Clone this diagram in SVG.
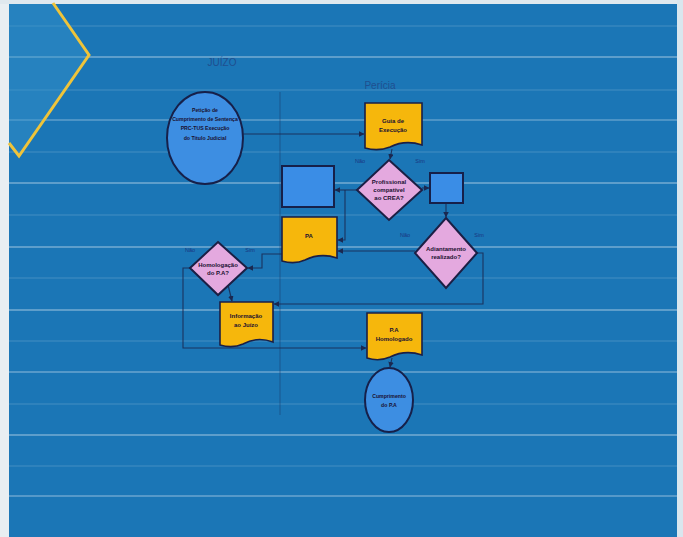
<svg xmlns="http://www.w3.org/2000/svg" width="683" height="537" viewBox="0 0 683 537">
<defs>
<style>
.doc{fill:#f6b70c;stroke:#1b1f45;stroke-width:1.6}
.dia{fill:#e4a9df;stroke:#1b1f45;stroke-width:2}
.ell{fill:#3d8ee2;stroke:#16204a;stroke-width:2}
.box{fill:#3a8de6;stroke:#16204a;stroke-width:2}
.con{fill:none;stroke:#1a2850;stroke-width:1.1;stroke-opacity:0.85}
.lane{fill:none;stroke:#1a3a6a;stroke-width:1;stroke-opacity:0.5}
.streak{stroke:#ffffff;stroke-width:1.5}
.t{font-family:"Liberation Sans",Arial,sans-serif;font-size:6px;font-weight:bold;fill:#1a1030;text-anchor:middle}
.ts{font-family:"Liberation Sans",Arial,sans-serif;font-size:5.2px;font-weight:bold;fill:#1a1030;text-anchor:middle}
.lbl{font-family:"Liberation Sans",Arial,sans-serif;font-size:5.5px;fill:#1a3580;text-anchor:middle}
.title{font-family:"Liberation Sans",Arial,sans-serif;font-size:10px;fill:#1f4f8f;text-anchor:middle}
</style>
<marker id="arr" viewBox="0 0 6 6" refX="5.5" refY="3" markerWidth="5" markerHeight="5" orient="auto">
<path d="M0,0 L6,3 L0,6 Z" fill="#1a2850"/>
</marker>
</defs>

<rect x="0" y="0" width="683" height="537" fill="#1b76b6"/>
<rect x="0" y="0" width="9" height="537" fill="#e8eef2"/>
<rect x="0" y="0" width="683" height="4" fill="#dfe8ee"/>
<rect x="677" y="0" width="6" height="537" fill="#d9e6ee"/>

<g id="streaks">
<line class="streak" x1="9" y1="57" x2="677" y2="57" stroke-opacity="0.4"/>
<line class="streak" x1="9" y1="120" x2="677" y2="120" stroke-opacity="0.3"/>
<line class="streak" x1="9" y1="183" x2="677" y2="183" stroke-opacity="0.4"/>
<line class="streak" x1="9" y1="247" x2="677" y2="247" stroke-opacity="0.4"/>
<line class="streak" x1="9" y1="310" x2="677" y2="310" stroke-opacity="0.4"/>
<line class="streak" x1="9" y1="372" x2="677" y2="372" stroke-opacity="0.35"/>
<line class="streak" x1="9" y1="435" x2="677" y2="435" stroke-opacity="0.4"/>
<line class="streak" x1="9" y1="496" x2="677" y2="496" stroke-opacity="0.35"/>
<line class="streak" x1="9" y1="26" x2="677" y2="26" stroke-opacity="0.12"/>
<line class="streak" x1="9" y1="90" x2="677" y2="90" stroke-opacity="0.12"/>
<line class="streak" x1="9" y1="152" x2="677" y2="152" stroke-opacity="0.12"/>
<line class="streak" x1="9" y1="215" x2="677" y2="215" stroke-opacity="0.12"/>
<line class="streak" x1="9" y1="278" x2="677" y2="278" stroke-opacity="0.12"/>
<line class="streak" x1="9" y1="341" x2="677" y2="341" stroke-opacity="0.12"/>
<line class="streak" x1="9" y1="404" x2="677" y2="404" stroke-opacity="0.12"/>
<line class="streak" x1="9" y1="466" x2="677" y2="466" stroke-opacity="0.12"/>
</g>

<g id="chevron">
<polygon points="9,4 53,4 89,55 19,156 9,143" fill="#3592c9" fill-opacity="0.45"/>
<polyline points="53,3 89,55 19,156 9,143" fill="none" stroke="#efc43a" stroke-width="3"/>
</g>

<text class="title" x="222" y="66">JUÍZO</text>
<text class="title" x="380" y="89">Perícia</text>

<g id="lanes">
<line class="lane" x1="280" y1="92" x2="280" y2="415"/>
</g>

<g id="connectors">
<line class="con" x1="243" y1="134" x2="364" y2="134" marker-end="url(#arr)"/>
<line class="con" x1="392" y1="149" x2="390" y2="159" marker-end="url(#arr)"/>
<line class="con" x1="357" y1="190" x2="335" y2="190" marker-end="url(#arr)"/>
<polyline class="con" points="345,190 345,240 338,240" marker-end="url(#arr)"/>
<line class="con" x1="422" y1="188" x2="429" y2="188" marker-end="url(#arr)"/>
<line class="con" x1="446" y1="203" x2="446" y2="217" marker-end="url(#arr)"/>
<line class="con" x1="415" y1="251" x2="338" y2="251" marker-end="url(#arr)"/>
<polyline class="con" points="282,254 262,254 262,268 248,268" marker-end="url(#arr)"/>
<line class="con" x1="228" y1="285" x2="232" y2="301" marker-end="url(#arr)"/>
<polyline class="con" points="190,268 183,268 183,348 366,348" marker-end="url(#arr)"/>
<polyline class="con" points="477,253 483,253 483,304 274,304" marker-end="url(#arr)"/>
<line class="con" x1="392" y1="358" x2="390" y2="367" marker-end="url(#arr)"/>
</g>

<g id="inicio">
<ellipse class="ell" cx="205" cy="138" rx="38" ry="46"/>
<text class="ts" x="205" y="112">Petição de</text>
<text class="ts" x="205" y="121">Cumprimento de Sentença</text>
<text class="ts" x="205" y="130">PRC-TUS Execução</text>
<text class="ts" x="205" y="140">do Título Judicial</text>
</g>

<g id="guia">
<path class="doc" d="M365,103 H422 V145 C410,141 400,142 390,147 C380,151 372,150 365,148 Z"/>
<text class="t" x="393" y="123">Guia de</text>
<text class="t" x="393" y="132">Execução</text>
</g>

<g id="caixa1">
<rect class="box" x="282" y="166" width="52" height="41"/>
</g>

<g id="pa">
<path class="doc" d="M282,217 H337 V258 C325,254 315,255 305,260 C296,264 289,263 282,261 Z"/>
<text class="t" x="309" y="238">PA</text>
</g>

<g id="crea">
<polygon class="dia" points="389,160 422,190 389,220 357,190"/>
<text class="t" x="389" y="184">Profissional</text>
<text class="t" x="389" y="192">compatível</text>
<text class="t" x="389" y="200">ao CREA?</text>
</g>

<g id="caixa2">
<rect class="box" x="430" y="173" width="33" height="30"/>
</g>

<g id="adiantamento">
<polygon class="dia" points="446,218 477,253 446,288 415,253"/>
<text class="t" x="446" y="251">Adiantamento</text>
<text class="t" x="446" y="259">realizado?</text>
</g>

<g id="homologacao">
<polygon class="dia" points="218,242 247,268 218,295 190,268"/>
<text class="t" x="218" y="267">Homologação</text>
<text class="t" x="218" y="275">do P.A?</text>
</g>

<g id="informacao">
<path class="doc" d="M220,302 H273 V342 C262,338 252,339 243,344 C234,348 227,347 220,345 Z"/>
<text class="t" x="246" y="318">Informação</text>
<text class="t" x="246" y="327">ao Juízo</text>
</g>

<g id="homologado">
<path class="doc" d="M367,313 H422 V355 C410,351 400,352 390,357 C381,361 373,360 367,358 Z"/>
<text class="t" x="394" y="332">P.A</text>
<text class="t" x="394" y="341">Homologado</text>
</g>

<g id="cumprimento">
<ellipse class="ell" cx="389" cy="400" rx="24" ry="32"/>
<text class="ts" x="389" y="398">Cumprimento</text>
<text class="ts" x="389" y="407">do P.A</text>
</g>

<g id="labels">
<text class="lbl" x="360" y="163">Não</text>
<text class="lbl" x="420" y="163">Sim</text>
<text class="lbl" x="405" y="237">Não</text>
<text class="lbl" x="479" y="237">Sim</text>
<text class="lbl" x="190" y="252">Não</text>
<text class="lbl" x="250" y="252">Sim</text>
</g>
</svg>
